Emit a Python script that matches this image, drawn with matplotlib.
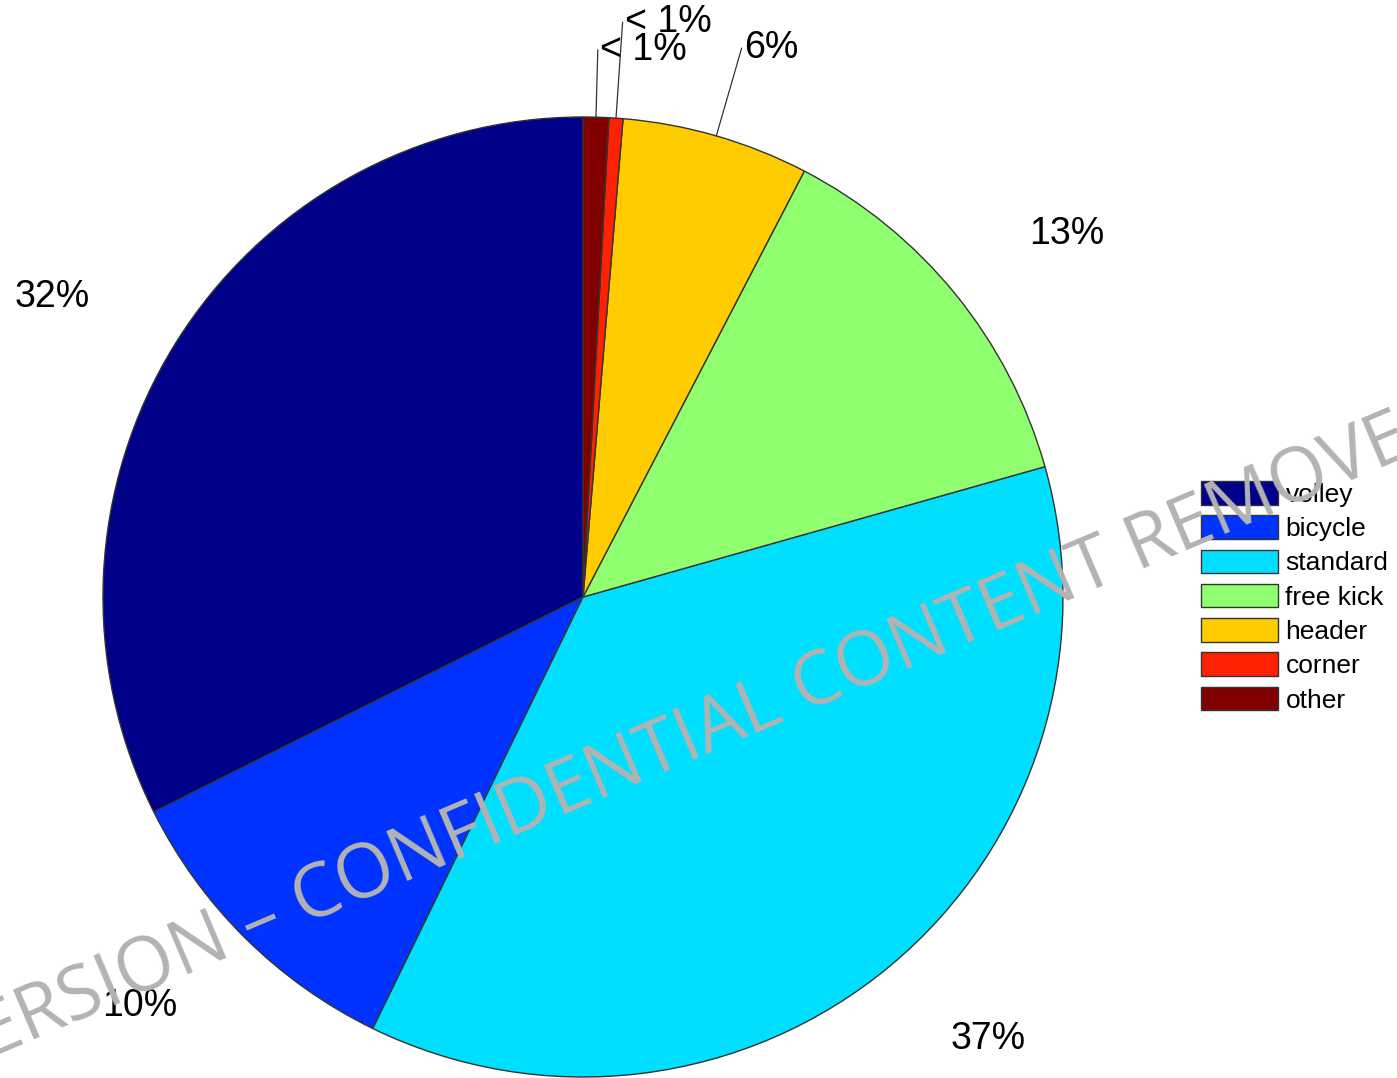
import numpy as np
import matplotlib
matplotlib.use('Agg')
import matplotlib.pyplot as plt

# data
kinds = ['volley', 'bicycle', 'standard', 'free kick', 'header', 'corner', 'other']
shares = [32.4, 10.4, 36.6, 13.0, 6.3, 0.47, 0.86]
labels = ['32%', '10%', '37%', '13%', '6%', '< 1%', '< 1%']
colors = ['#000088', '#0033FF', '#00DFFF', '#8FFF6F', '#FFCC00', '#FF2200', '#800000']

plt.rcParams['font.family'] = ['Liberation Sans', 'DejaVu Sans']

fig = plt.figure(figsize=(13.97, 10.78), dpi=100)
ax = fig.add_axes([0, 0, 1, 1])

wedges, _ = ax.pie(shares, colors=colors, startangle=90, counterclock=True,
                   wedgeprops=dict(edgecolor='#333333', linewidth=1.0))

ax.set_xlim(-583 / 480, (1397 - 583) / 480)
ax.set_ylim(-(1078 - 597) / 480, 597 / 480)
ax.set_aspect('auto')
ax.axis('off')

# percent labels (angle nudge in degrees, radius)
label_place = {0: (2.2, 1.27), 1: (-2.6, 1.256), 2: (2.6, 1.25), 3: (-2.3, 1.26)}
leader_r = {4: 1.19, 5: 1.2, 6: 1.14}
for i, w in enumerate(wedges):
    mid = np.deg2rad((w.theta1 + w.theta2) / 2)
    if i in leader_r:
        r = leader_r[i]
        ax.plot([np.cos(mid), r * np.cos(mid)], [np.sin(mid), r * np.sin(mid)],
                color='#333333', lw=0.9)
        ax.text(r * np.cos(mid) + 0.005, r * np.sin(mid), labels[i],
                ha='left', va='center', fontsize=27)
    else:
        da, r = label_place[i]
        a = mid + np.deg2rad(da)
        ax.text(r * np.cos(a), r * np.sin(a), labels[i],
                ha='center', va='center', fontsize=27)

leg = ax.legend(wedges, kinds, loc='upper left',
                bbox_to_anchor=(1201 / 1397, 1 - 481 / 1078),
                bbox_transform=fig.transFigure, frameon=False,
                fontsize=19, handlelength=2.9, handleheight=1.0,
                handletextpad=0.3, labelspacing=0.32, borderpad=0,
                borderaxespad=0)

# watermark
fig.text(-52 / 1397, 1 - 1076 / 1078, 'VERSION \u2013 CONFIDENTIAL CONTENT REMOVED',
         family=['Open Sans', 'DejaVu Sans'], fontsize=54, color='#B3B3B3',
         rotation=23, rotation_mode='anchor', ha='left', va='baseline',
         zorder=10)

fig.savefig('out.png', dpi=100)
